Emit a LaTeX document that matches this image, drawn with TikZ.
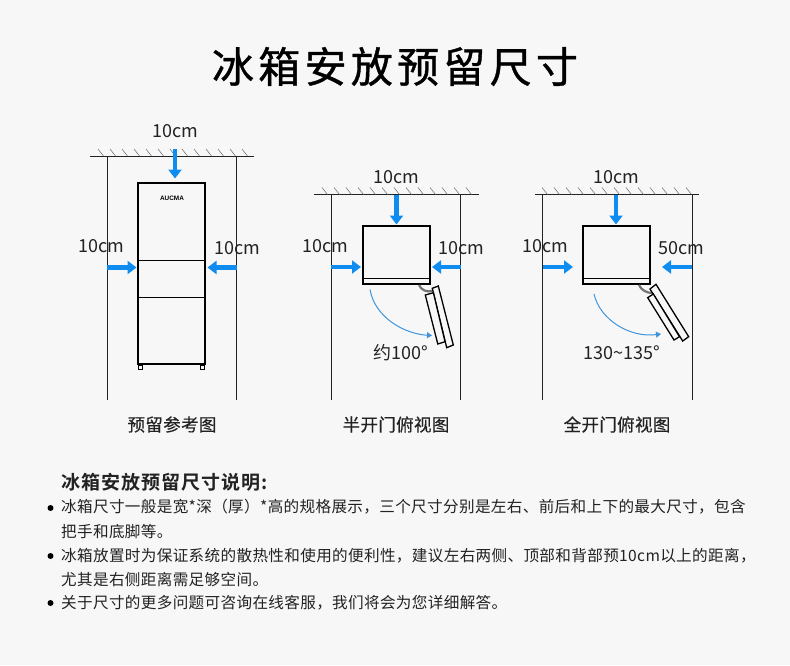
\documentclass[tikz,border=0pt]{standalone}
\usepackage{fontspec}
\usetikzlibrary{arrows.meta}
\setmainfont{Noto Sans CJK SC}
\newfontfamily\ttlfont[FakeBold=0.9,LetterSpace=10.2]{Noto Sans CJK SC}
\newfontfamily\capfont[FakeBold=0.4,LetterSpace=2]{Noto Sans CJK SC}
\newfontfamily\hdfont[LetterSpace=5.5]{Noto Sans CJK SC Bold}
\newfontfamily\bodyfont[LetterSpace=2.2]{Noto Sans CJK SC}
\newfontfamily\logofont{Liberation Sans}
\definecolor{bg}{HTML}{F7F7F7}
\definecolor{ink}{HTML}{222222}
\definecolor{arrowblue}{HTML}{0F8CF0}
\definecolor{arcblue}{HTML}{3E95DC}
\tikzset{
  wall/.style={draw=ink,line width=.9pt},
  hatch/.style={draw=ink!70,line width=.5pt},
  box/.style={draw=black,line width=2pt,fill=bg},
  thinline/.style={draw=black,line width=1pt},
  blue/.style={draw=arrowblue,line width=4.6pt,-{Triangle[width=13pt,length=9pt]}},
  swing/.style={draw=arcblue,line width=1pt,-{Triangle[width=6pt,length=5pt]}},
  door/.style={draw=black,line width=1.3pt,fill=bg},
  hinge/.style={draw=black!55,line width=2.2pt},
  dim/.style={text=ink,font=\fontsize{18}{18}\selectfont,inner sep=0pt},
  capt/.style={text=ink,font=\capfont\fontsize{17.5}{18}\selectfont,inner sep=0pt},
  body/.style={text=ink,font=\bodyfont\fontsize{15.6}{16}\selectfont,inner sep=0pt,anchor=west},
  bullet/.style={circle,fill=black,inner sep=0pt,minimum size=6pt},
}
\begin{document}
\begin{tikzpicture}[x=1pt,y=-1pt]
\useasboundingbox (0,0) rectangle (790,665);
\fill[bg] (0,0) rectangle (790,665);
\node[text=black,inner sep=0pt,font=\ttlfont\fontsize{42}{44}\selectfont] (title) at (395,66.5) {冰箱安放预留尺寸};

% --- left panel
\coordinate (lwa) at (90,156); \coordinate (lwb) at (254,156);
\coordinate (lva) at (107.5,156); \coordinate (lvb) at (107.5,400);
\coordinate (lvc) at (236.5,156); \coordinate (lvd) at (236.5,400);
\draw[wall] (lwa) -- (lwb);
\draw[wall] (lva) -- (lvb);
\draw[wall] (lvc) -- (lvd);
\foreach \i in {0,...,12} \draw[hatch] (98+12*\i,149) -- (103.5+12*\i,156);
\node[box,minimum width=67pt,minimum height=181pt,inner sep=0pt] (fridge) at (171.5,273.5) {};
\draw[thinline] (138,260.5) -- (205,260.5);
\draw[thinline] (138,297.5) -- (205,297.5);
\draw[black,line width=.8pt,fill=bg] (138.5,365) rectangle (142.7,369);
\draw[black,line width=.8pt,fill=bg] (200.5,365) rectangle (204.7,369);
\node[inner sep=0pt,font=\logofont\bfseries\fontsize{6.4}{7}\selectfont] (logo) at (172,198.7) {AUCMA};
\coordinate (lt) at (175,149); \coordinate (lte) at (175,178.5);
\coordinate (ll) at (107,267.5); \coordinate (lle) at (136.5,267.5);
\coordinate (lr) at (236.5,267.5); \coordinate (lre) at (207.5,267.5);
\draw[blue] (lt) -- (lte);
\draw[blue] (ll) -- (lle);
\draw[blue] (lr) -- (lre);
\node[dim] (d1) at (175.5,131) {10cm};
\node[dim] (d2) at (101.5,246) {10cm};
\node[dim] (d3) at (237.5,248) {10cm};
\node[capt] (c1) at (172,424.5) {预留参考图};

% --- middle panel
\coordinate (mwa) at (314,194.5); \coordinate (mwb) at (479,194.5);
\coordinate (mva) at (331.5,194.5); \coordinate (mvb) at (331.5,400);
\coordinate (mvc) at (460.5,194.5); \coordinate (mvd) at (460.5,400);
\draw[wall] (mwa) -- (mwb);
\draw[wall] (mva) -- (mvb);
\draw[wall] (mvc) -- (mvd);
\foreach \i in {0,...,12} \draw[hatch] (322+12*\i,187.5) -- (327.5+12*\i,194.5);
\node[box,minimum width=67pt,minimum height=58pt,inner sep=0pt] (mbox) at (396.5,255) {};
\draw[thinline] (363,278) -- (430,278);
\draw[hinge] (419,285) .. controls (421,290) and (427,292.5) .. (432,291);
\draw[door] (432.3,288.3) -- (438.3,286) -- (453.3,345) -- (446.7,347.7) -- cycle;
\draw[door] (425.3,295) -- (433.4,292.7) -- (445,341.7) -- (437.8,344) -- cycle;
\coordinate (mt) at (396.5,194.5); \coordinate (mte) at (396.5,224.5);
\coordinate (ml) at (331,267); \coordinate (mle) at (361,267);
\coordinate (mr) at (460.5,267); \coordinate (mre) at (432,267);
\draw[blue] (mt) -- (mte);
\draw[blue] (ml) -- (mle);
\draw[blue] (mr) -- (mre);
\coordinate (ms) at (370,289.5); \coordinate (mse) at (432,335.5);
\draw[swing] (ms) .. controls (375,318) and (405,334) .. (mse);
\node[dim] (d4) at (396.5,177) {10cm};
\node[dim] (d5) at (325.5,246) {10cm};
\node[dim] (d6) at (461.5,248) {10cm};
\node[dim] (a1) at (400.5,353) {约100°};
\node[capt] (c2) at (396,424.5) {半开门俯视图};

% --- right panel
\coordinate (rwa) at (535,194.5); \coordinate (rwb) at (699,194.5);
\coordinate (rva) at (542.5,194.5); \coordinate (rvb) at (542.5,400);
\coordinate (rvc) at (692,194.5); \coordinate (rvd) at (692,400);
\draw[wall] (rwa) -- (rwb);
\draw[wall] (rva) -- (rvb);
\draw[wall] (rvc) -- (rvd);
\foreach \i in {0,...,12} \draw[hatch] (542+12*\i,187.5) -- (547.5+12*\i,194.5);
\node[box,minimum width=67pt,minimum height=58pt,inner sep=0pt] (rbox) at (616.5,255) {};
\draw[thinline] (583,278) -- (650,278);
\draw[hinge] (639,285) .. controls (641,290) and (647,293) .. (652,293);
\draw[door] (650,289) -- (656,284.3) -- (688.7,336.7) -- (682.7,341) -- cycle;
\draw[door] (647.7,297.7) -- (653.3,294) -- (679.5,336.7) -- (674,340) -- cycle;
\coordinate (rt) at (616,194.5); \coordinate (rte) at (616,224.5);
\coordinate (rl) at (542.5,267); \coordinate (rle) at (573,267);
\coordinate (rr) at (692,267); \coordinate (rre) at (662,267);
\draw[blue] (rt) -- (rte);
\draw[blue] (rl) -- (rle);
\draw[blue] (rr) -- (rre);
\coordinate (rs) at (594,294); \coordinate (rse) at (661,334);
\draw[swing] (rs) .. controls (600,320) and (630,338) .. (rse);
\node[dim] (d7) at (616.5,177) {10cm};
\node[dim] (d8) at (545.5,246) {10cm};
\node[dim] (d9) at (681.5,248) {50cm};
\node[dim] (a2) at (622,353) {130\textasciitilde135°};
\node[capt] (c3) at (617,424.5) {全开门俯视图};

% --- notes
\node[inner sep=0pt,anchor=west,text=ink,font=\hdfont\fontsize{19}{19}\selectfont] (h) at (61,482) {冰箱安放预留尺寸说明:};
\node[bullet] (b1) at (50.5,508) {};
\node[bullet] (b2) at (50.5,556) {};
\node[bullet] (b3) at (50.5,603) {};
\node[body] (t1) at (61,507) {冰箱尺寸一般是宽*深（厚）*高的规格展示，三个尺寸分别是左右、前后和上下的最大尺寸，包含};
\node[body] (t2) at (61,531.5) {把手和底脚等。};
\node[body] (t3) at (61,555.5) {冰箱放置时为保证系统的散热性和使用的便利性，建议左右两侧、顶部和背部预10cm以上的距离，};
\node[body] (t4) at (61,580) {尤其是右侧距离需足够空间。};
\node[body] (t5) at (61,603) {关于尺寸的更多问题可咨询在线客服，我们将会为您详细解答。};
\end{tikzpicture}
\end{document}
